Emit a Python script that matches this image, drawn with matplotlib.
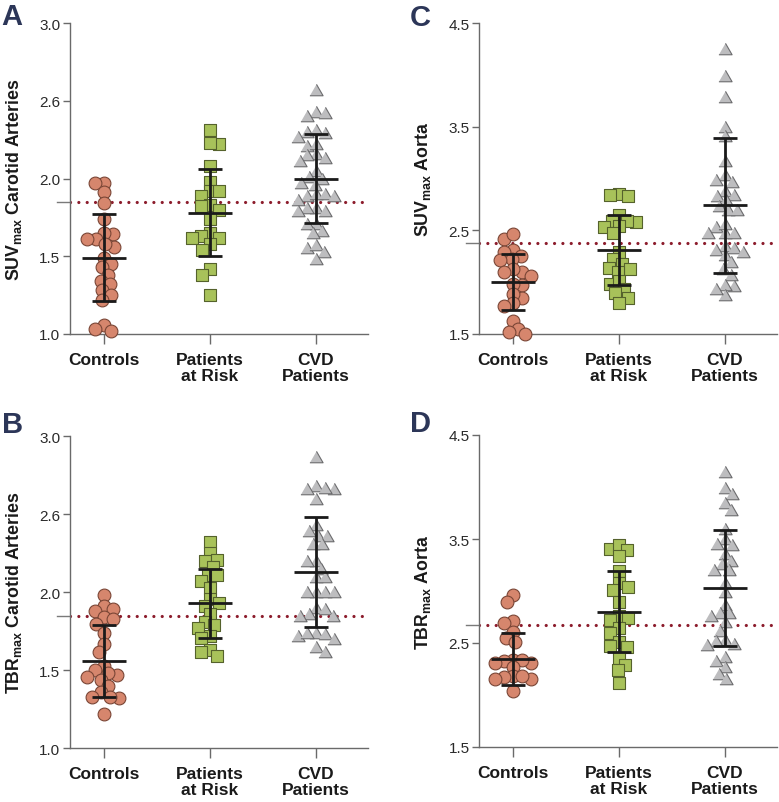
import numpy as np
import matplotlib
matplotlib.use("Agg")
import matplotlib.pyplot as plt
import matplotlib.transforms as mtransforms

plt.rcParams['font.family'] = 'sans-serif'
plt.rcParams['font.sans-serif'] = ['Liberation Sans', 'DejaVu Sans']
plt.rcParams['mathtext.fontset'] = 'custom'
plt.rcParams['mathtext.bf'] = 'Liberation Sans:bold'
plt.rcParams['mathtext.rm'] = 'Liberation Sans'

groups = ['Controls', 'Patients\nat Risk', 'CVD\nPatients']

# A: SUVmax carotid arteries
suv_car_controls = [1.97, 1.97, 1.91, 1.84, 1.74, 1.64, 1.65, 1.61, 1.61, 1.56, 1.58, 1.49,
                    1.45, 1.43, 1.38, 1.34, 1.32, 1.28, 1.25, 1.22, 1.06, 1.02, 1.03]
suv_car_risk = [2.31, 2.22, 2.23, 2.08, 1.98, 1.92, 1.89, 1.92, 1.83, 1.82, 1.80, 1.74,
                1.65, 1.62, 1.63, 1.62, 1.58, 1.54, 1.42, 1.38, 1.25]
suv_car_cvd = [2.57, 2.43, 2.40, 2.42, 2.30, 2.31, 2.29, 2.27, 2.21, 2.22, 2.16, 2.15,
               2.13, 2.11, 2.05, 2.00, 2.01, 1.97, 1.96, 1.89, 1.90, 1.90, 1.89, 1.86,
               1.81, 1.81, 1.79, 1.79, 1.71, 1.71, 1.66, 1.65, 1.55, 1.57, 1.53, 1.48]
suv_car_mean = [1.49, 1.78, 2.00]
suv_car_sd = [0.28, 0.28, 0.285]

# B: TBRmax carotid arteries
tbr_car_controls = [1.98, 1.91, 1.89, 1.88, 1.84, 1.83, 1.80, 1.74, 1.67, 1.62, 1.53, 1.50,
                    1.47, 1.48, 1.46, 1.44, 1.40, 1.36, 1.32, 1.33, 1.33, 1.22]
tbr_car_risk = [2.32, 2.25, 2.20, 2.21, 2.16, 2.11, 2.11, 2.07, 2.03, 1.96, 1.91, 1.93,
                1.86, 1.81, 1.79, 1.77, 1.72, 1.71, 1.63, 1.62, 1.59]
tbr_car_cvd = [2.87, 2.68, 2.66, 2.66, 2.67, 2.60, 2.43, 2.36, 2.39, 2.36, 2.31, 2.31,
               2.20, 2.20, 2.15, 2.10, 2.10, 2.00, 2.00, 2.00, 2.00, 1.90, 1.89, 1.85,
               1.86, 1.85, 1.74, 1.73, 1.72, 1.74, 1.70, 1.65, 1.62]
tbr_car_mean = [1.56, 1.93, 2.13]
tbr_car_sd = [0.23, 0.22, 0.35]

# C: SUVmax aorta
suv_ao_controls = [2.42, 2.46, 2.31, 2.29, 2.25, 2.22, 2.21, 2.10, 2.13, 2.10, 2.06, 1.97,
                   1.98, 1.85, 1.89, 1.80, 1.77, 1.63, 1.55, 1.52, 1.50]
suv_ao_risk = [2.85, 2.83, 2.84, 2.65, 2.58, 2.59, 2.59, 2.54, 2.53, 2.47, 2.29, 2.22,
               2.18, 2.14, 2.13, 2.10, 1.98, 2.01, 1.93, 1.90, 1.85, 1.80]
suv_ao_cvd = [4.25, 3.99, 3.79, 3.50, 3.41, 3.17, 3.03, 2.99, 2.97, 2.88, 2.83, 2.84,
              2.79, 2.73, 2.70, 2.70, 2.53, 2.56, 2.47, 2.47, 2.47, 2.35, 2.33, 2.31,
              2.26, 2.29, 2.13, 2.19, 2.07, 1.96, 1.97, 1.88, 1.93]
suv_ao_mean = [2.00, 2.31, 2.74]
suv_ao_sd = [0.27, 0.34, 0.65]

# D: TBRmax aorta
tbr_ao_controls = [2.96, 2.89, 2.71, 2.69, 2.61, 2.55, 2.51, 2.34, 2.31, 2.34, 2.33, 2.31,
                   2.27, 2.18, 2.15, 2.18, 2.17, 2.15, 2.04]
tbr_ao_risk = [3.40, 3.44, 3.39, 3.34, 3.19, 3.08, 3.04, 3.01, 2.89, 2.76, 2.74, 2.72,
               2.64, 2.60, 2.51, 2.46, 2.47, 2.36, 2.29, 2.24, 2.12]
tbr_ao_cvd = [4.14, 3.99, 3.93, 3.85, 3.78, 3.60, 3.50, 3.45, 3.44, 3.36, 3.29, 3.26,
              3.20, 3.20, 3.08, 2.99, 2.87, 2.79, 2.79, 2.76, 2.70, 2.62, 2.53, 2.52,
              2.49, 2.48, 2.37, 2.33, 2.27, 2.20, 2.15]
tbr_ao_mean = [2.35, 2.80, 3.03]
tbr_ao_sd = [0.25, 0.39, 0.56]

carotid_ticks = [1.0, 1.5, 2.0, 2.5, 3.0]
carotid_ticklabels = ['1.0', '1.5', '2.0', '2.6', '3.0']
aorta_ticks = [1.5, 2.5, 3.5, 4.5]
aorta_ticklabels = ['1.5', '2.5', '3.5', '4.5']

thresholds = {'A': 1.85, 'B': 1.85, 'C': 2.38, 'D': 2.67}

tri = [(-1, -0.8), (1, -0.8), (0, 0.932)]
styles = [
    dict(marker='o', s=85, facecolor='#d6866d', edgecolor='#7a4636'),
    dict(marker='s', s=84, facecolor='#a8c25a', edgecolor='#55622c'),
    dict(marker=tri, s=90, facecolor='#bdbdbf', edgecolor='#6c6c6e'),
]


def swarm_offsets(ax, xc, vals, diam=9.0, step=1.5, maxw=22):
    # simple beeswarm in pixel space, points may overlap a bit
    vals = np.asarray(vals, dtype=float)
    pts = ax.transData.transform(np.column_stack([np.full(len(vals), xc), vals]))
    ypx = pts[:, 1]
    x0 = pts[0, 0]
    order = np.argsort(-vals)
    placed = []
    offs = np.zeros(len(vals))
    for n, i in enumerate(order):
        k = 0
        best = None
        while k * step <= maxw:
            sgn = 1 if n % 2 == 0 else -1
            cands = [0.0] if k == 0 else [sgn * k * step, -sgn * k * step]
            for c in cands:
                if all((c - px) ** 2 + (ypx[i] - py) ** 2 >= diam ** 2 for px, py in placed):
                    best = c
                    break
            if best is not None:
                break
            k += 1
        if best is None:
            best = 0.0
        placed.append((best, ypx[i]))
        offs[i] = best
    xs = ax.transData.inverted().transform(np.column_stack([x0 + offs, ypx]))[:, 0]
    return xs


def panel(ax, data, means, sds, ylim, ticks, ticklabels, ylab, thr):
    ax.set_xlim(-0.32, 2.49)
    ax.set_ylim(*ylim)
    for sp in ['top', 'right']:
        ax.spines[sp].set_visible(False)
    for sp in ['left', 'bottom']:
        ax.spines[sp].set_color('#6a6a6a')
        ax.spines[sp].set_linewidth(1.0)
    ax.set_yticks(ticks)
    ax.set_yticklabels(ticklabels)
    ax.set_xticks(range(3))
    ax.set_xticklabels(groups, fontsize=12.5, fontweight='bold', linespacing=1.05)
    ax.tick_params(axis='y', length=5, width=1.0, color='#6a6a6a', labelsize=11,
                   labelcolor='#2a2a2a', pad=2)
    ax.tick_params(axis='x', length=7, width=1.0, color='#6a6a6a', pad=6,
                   labelcolor='#1a1a1a')
    ax.set_ylabel(ylab, fontsize=12.8, fontweight='bold', color='#1a1a1a')
    ax.yaxis.set_label_coords(-0.155, 0.5)

    trans = mtransforms.blended_transform_factory(ax.transAxes, ax.transData)
    ax.axhline(thr, color='#8c1c2c', lw=2.3, ls=(0, (0.01, 2.6)),
               dash_capstyle='round', zorder=2)
    ax.plot([-0.045, 0], [thr, thr], transform=trans, color='#7a7a7a', lw=1.0,
            clip_on=False)

    for i, vals in enumerate(data):
        xs = swarm_offsets(ax, i, vals)
        st = styles[i]
        ax.scatter(xs, vals, marker=st['marker'], s=st['s'], facecolor=st['facecolor'],
                   edgecolor=st['edgecolor'], linewidth=0.8, zorder=3, clip_on=False)
        ax.errorbar(i, means[i], yerr=sds[i], fmt='none', ecolor='#1a1a1a',
                    elinewidth=2.0, capsize=8.3, capthick=2.0, zorder=4)
        ax.hlines(means[i], i - 0.21, i + 0.21, color='#1a1a1a', lw=2.0, zorder=4)


fig = plt.figure(figsize=(7.79, 8.03), dpi=100)
W, H = 779, 803
axA = fig.add_axes([70 / W, 1 - 335 / H, 298 / W, 311 / H])
axB = fig.add_axes([70 / W, 1 - 749.3 / H, 298 / W, 312 / H])
axC = fig.add_axes([479.3 / W, 1 - 335 / H, 297.4 / W, 311 / H])
axD = fig.add_axes([479.3 / W, 1 - 748 / H, 297.4 / W, 312 / H])

panel(axA, [suv_car_controls, suv_car_risk, suv_car_cvd], suv_car_mean, suv_car_sd,
      (1.0, 3.0), carotid_ticks, carotid_ticklabels,
      r'SUV$_{\mathbf{max}}$ Carotid Arteries', thresholds['A'])
panel(axB, [tbr_car_controls, tbr_car_risk, tbr_car_cvd], tbr_car_mean, tbr_car_sd,
      (1.0, 3.0), carotid_ticks, carotid_ticklabels,
      r'TBR$_{\mathbf{max}}$ Carotid Arteries', thresholds['B'])
panel(axC, [suv_ao_controls, suv_ao_risk, suv_ao_cvd], suv_ao_mean, suv_ao_sd,
      (1.5, 4.5), aorta_ticks, aorta_ticklabels,
      r'SUV$_{\mathbf{max}}$ Aorta', thresholds['C'])
panel(axD, [tbr_ao_controls, tbr_ao_risk, tbr_ao_cvd], tbr_ao_mean, tbr_ao_sd,
      (1.5, 4.5), aorta_ticks, aorta_ticklabels,
      r'TBR$_{\mathbf{max}}$ Aorta', thresholds['D'])

letter_color = '#2c3658'
for lab, x, y in [('A', 1, 25), ('B', 2, 433), ('C', 410, 26), ('D', 410, 432)]:
    fig.text(x / W, 1 - y / H, lab, fontsize=21, fontweight='bold', color=letter_color,
             ha='left', va='baseline')

fig.savefig('out.png', dpi=100)
